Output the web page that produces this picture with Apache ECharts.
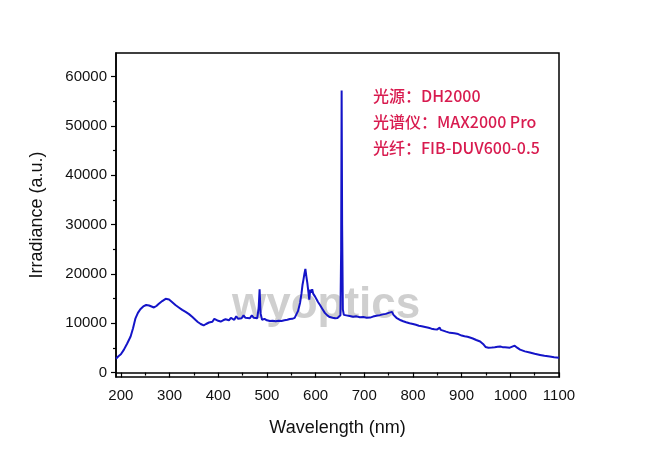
<!DOCTYPE html>
<html><head><meta charset="utf-8">
<script src="https://cdn.jsdelivr.net/npm/echarts@6/dist/echarts.min.js"></script>
<style>html,body{margin:0;padding:0;background:#fff}#c{width:650px;height:453px}</style>
</head><body><div id="c"></div>
<script>
const wavelength = [190,195,200,206,213,220,225,230,235,240,246,252,258,263,268,273,278,285,292,299,305,312,319,326,333,340,347,353,358,364,370,375,381,388,392,395,400,405,410,415,418,422,426,429,433,437,441,444,448,452,456,460,465,469,473,477,480,483,485,487,490,495,500,506,512,518,524,530,536,542,547,552,557,561,564,568,571,573,575,577,579,581,583,585,587,589,591,593,595,597,599,601,605,609,614,619,624,629,635,640,645,649,651,652.5,653.5,654.5,656,658,663,667,670,674,677,681,684,688,691,695,698,702,705,709,712,718,722,725,729,732,735,738,741,744,747,750,752,754,757,760,763,766,770,775,780,786,793,800,806,812,818,825,832,838,844,850,853,855,857,862,868,876,885,893,900,906,912,917,923,930,938,944,949,955,962,968,974,979,984,989,994,999,1004,1009,1014,1020,1030,1040,1050,1061,1070,1081,1090,1100];
const irradiance = [2800,3300,3700,4600,5900,7300,9000,11000,12100,12850,13400,13700,13600,13400,13200,13500,13950,14500,14950,14800,14300,13700,13200,12700,12300,11850,11250,10700,10250,9850,9550,9850,10150,10300,10900,10600,10500,10350,10600,10800,10900,10600,11100,11000,10700,11400,10900,11300,11000,11600,11100,11500,11000,11600,11100,10900,11000,13000,16900,12000,10700,10900,10600,10450,10500,10400,10500,10450,10600,10700,10850,10900,11100,11400,12500,14100,16000,17700,18800,20000,21000,19500,18200,16500,14800,16800,16200,16900,16000,15700,15400,15100,14300,13700,12900,12100,11600,11250,11100,11000,11050,11150,11600,25000,57200,30000,12800,11700,11600,11900,11450,11700,11300,11600,11400,11150,11200,11500,11250,11050,11100,11350,11150,11350,11700,11500,11850,11650,11950,11800,12100,11900,12250,12100,12500,12350,12300,11700,11400,11100,10900,10600,10400,10200,10000,9850,9700,9500,9400,9250,9100,8900,8800,8750,8700,9100,8650,8500,8300,8050,7950,7800,7500,7350,7250,7100,6900,6600,6300,5800,5200,5050,5100,5150,5250,5300,5150,5150,5100,5050,5250,5450,5050,4650,4300,4050,3800,3580,3400,3250,3120,3020];
const xMajorTicks = [200,300,400,500,600,700,800,900,1000,1100];
const xMinorTicks = [250,350,450,550,650,750,850,950,1050];
const yMajorTicks = [0,10000,20000,30000,40000,50000,60000];
const yMinorTicks = [5000,15000,25000,35000,45000,55000];
const notes = ['光源：DH2000','光谱仪：MAX2000 Pro','光纤：FIB-DUV600-0.5'];
const xTitle = 'Wavelength (nm)';
const yTitle = 'Irradiance (a.u.)';
const watermark = 'wyoptics';

const font = '"Liberation Sans", Arial, sans-serif';
const plain = v => String(v);
const chart = echarts.init(document.getElementById('c'));
const axisCommon = {axisLine:{show:true,lineStyle:{color:'#000',width:1.5}}, splitLine:{show:false}};
chart.setOption({
  animation:false,
  backgroundColor:'#fff',
  grid:{left:116,right:91,top:53,bottom:76,show:true,borderColor:'#000',borderWidth:1.5,backgroundColor:'transparent'},
  xAxis:[
    Object.assign({type:'value',min:190,max:1100,name:xTitle,nameLocation:'middle',nameGap:42,
      nameTextStyle:{fontFamily:font,fontSize:18,color:'#111'},
      axisTick:{show:true,customValues:xMajorTicks,length:5,lineStyle:{color:'#000',width:1.2}},
      axisLabel:{customValues:xMajorTicks,formatter:plain,fontFamily:font,fontSize:15,color:'#111',margin:11}},axisCommon),
    {type:'value',min:190,max:1100,position:'bottom',axisLine:{show:false},splitLine:{show:false},
      axisTick:{show:true,customValues:xMinorTicks,length:3,lineStyle:{color:'#000',width:1.2}},axisLabel:{show:false}}
  ],
  yAxis:[
    Object.assign({type:'value',min:-900,max:64800,name:yTitle,nameLocation:'middle',nameGap:70,nameRotate:90,
      nameTextStyle:{fontFamily:font,fontSize:18,color:'#111'},
      axisTick:{show:true,customValues:yMajorTicks,length:5,lineStyle:{color:'#000',width:1.2}},
      axisLabel:{customValues:yMajorTicks,formatter:plain,fontFamily:font,fontSize:15,color:'#111',margin:9}},axisCommon),
    {type:'value',min:-900,max:64800,position:'left',axisLine:{show:false},splitLine:{show:false},
      axisTick:{show:true,customValues:yMinorTicks,length:3,lineStyle:{color:'#000',width:1.2}},axisLabel:{show:false}}
  ],
  graphic:[
    {type:'text',left:232,top:284,z:0,zlevel:0,silent:true,style:{text:watermark,font:'bold 44px '+font,fill:'rgba(175,175,175,0.6)'}},
    {type:'text',left:373,top:88,z:10,style:{text:notes[0],font:'500 16px "Noto Sans CJK SC", sans-serif',fill:'#d81b4f'}},
    {type:'text',left:373,top:114,z:10,style:{text:notes[1],font:'500 16px "Noto Sans CJK SC", sans-serif',fill:'#d81b4f'}},
    {type:'text',left:373,top:140,z:10,style:{text:notes[2],font:'500 16px "Noto Sans CJK SC", sans-serif',fill:'#d81b4f'}}
  ],
  series:[{type:'line',xAxisIndex:0,yAxisIndex:0,showSymbol:false,z:5,
    data:wavelength.map((w,i)=>[w,irradiance[i]]),
    lineStyle:{color:'#1414c8',width:2}}]
});
</script></body></html>
